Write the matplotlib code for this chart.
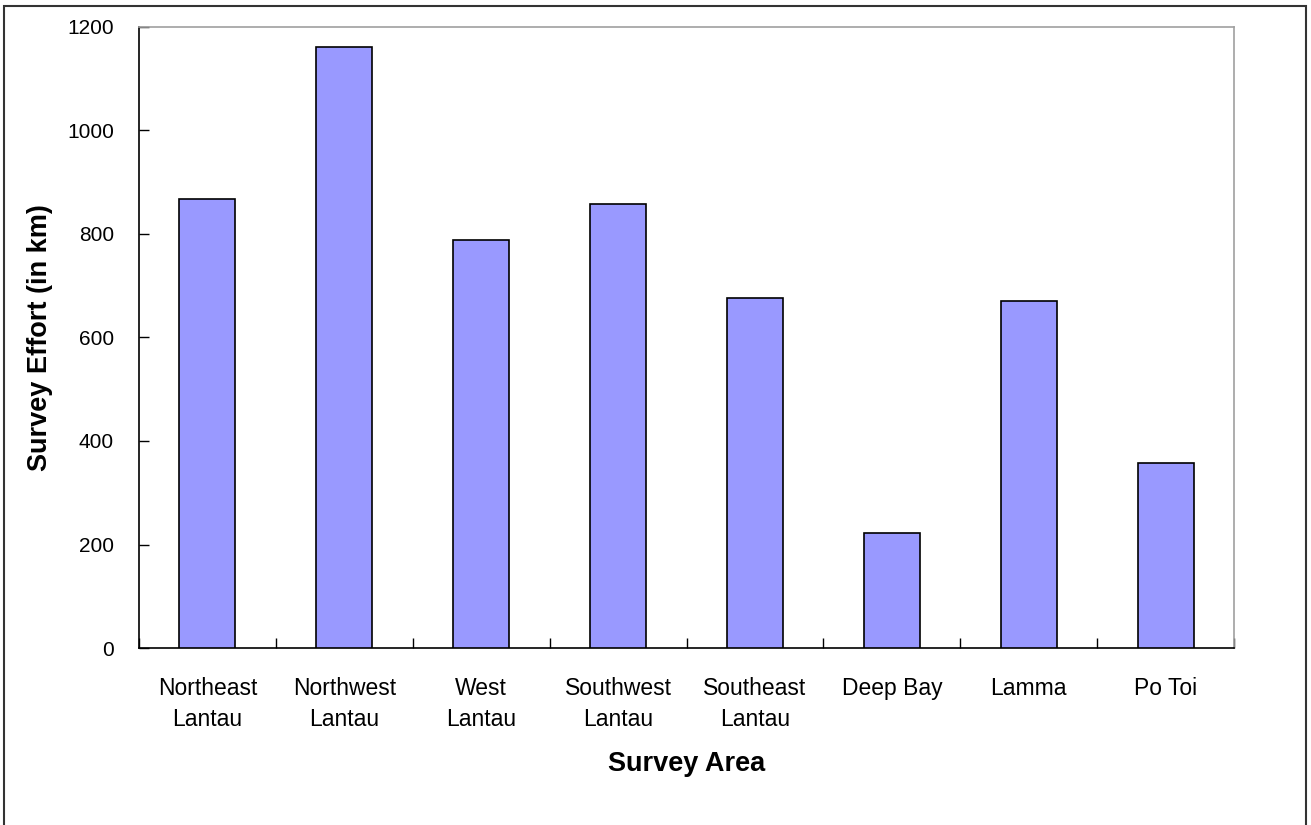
import matplotlib
matplotlib.use("Agg")
import matplotlib.pyplot as plt
from matplotlib.patches import Rectangle
import numpy as np

categories = ["Northeast\nLantau", "Northwest\nLantau", "West\nLantau", "Southwest\nLantau",
              "Southeast\nLantau", "Deep Bay", "Lamma", "Po Toi"]
values = [867, 1161, 788, 858, 676, 222, 670, 357]
yticks = [0, 200, 400, 600, 800, 1000, 1200]

plt.rcParams['font.family'] = ['Liberation Sans', 'DejaVu Sans']

fig = plt.figure(figsize=(13.11, 8.25), dpi=100)
ax = fig.add_axes([139/1311, 1-648/825, (1234-139)/1311, (648-27)/825])

x = np.arange(len(categories))
ax.bar(x, values, width=0.41, color="#9999ff", edgecolor="black", linewidth=1.2, zorder=3)

ax.set_xlim(-0.5, len(categories)-0.5)
ax.set_ylim(0, 1200)
ax.set_yticks(yticks)
ax.set_yticklabels([str(v) for v in yticks], fontsize=15)
ax.set_xticks(x)
ax.set_xticklabels(categories, fontsize=16.5, linespacing=1.45)
ax.tick_params(axis='x', length=0, pad=21)
ax.set_xticks(np.arange(len(categories)+1) - 0.5, minor=True)
ax.tick_params(axis='x', which='minor', direction='in', length=7, width=1, color='black')
ax.tick_params(axis='y', direction='in', length=7, width=1, pad=18)

for s in ['left', 'bottom']:
    ax.spines[s].set_color('black')
    ax.spines[s].set_linewidth(1.2)
for s in ['top', 'right']:
    ax.spines[s].set_color('#a0a0a0')
    ax.spines[s].set_linewidth(1.2)

ax.set_xlabel("Survey Area", fontsize=19.5, fontweight='bold', labelpad=14)
ax.set_ylabel("Survey Effort (in km)", fontsize=19.5, fontweight='bold', labelpad=10)

fig.patches.append(Rectangle((4/1311, -0.05), 1302/1311, 1.05 - 6/825, transform=fig.transFigure,
                             fill=False, edgecolor='#333333', linewidth=1.5))

fig.savefig("out.png", dpi=100)
